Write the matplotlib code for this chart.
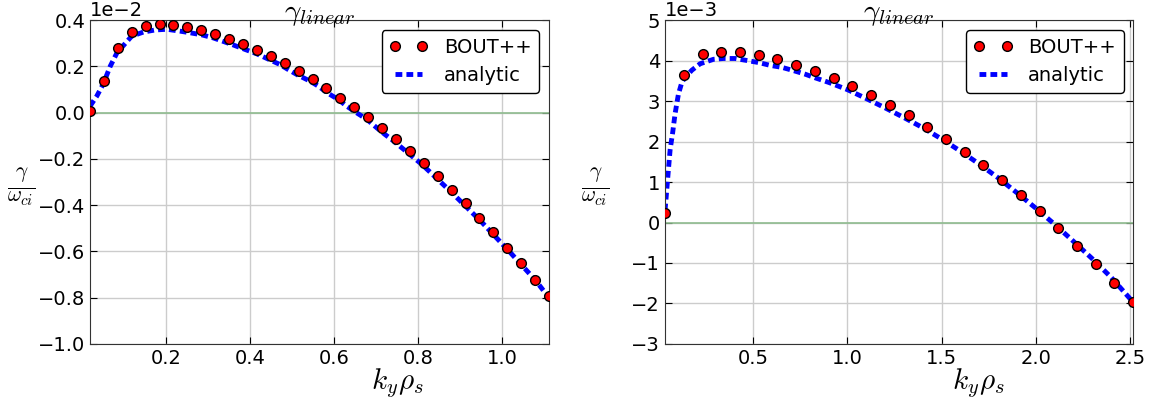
import numpy as np
import matplotlib
matplotlib.use('Agg')
import matplotlib.pyplot as plt

plt.rcParams['mathtext.fontset'] = 'cm'
plt.rcParams['font.family'] = 'DejaVu Sans'

# left panel, values in units of 1e-2
kyIzq = np.linspace(0.019, 1.112, 34)
gammaIzq = [0.005, 0.136, 0.28, 0.348, 0.375, 0.382, 0.378, 0.369, 0.356, 0.34,
            0.32, 0.297, 0.271, 0.245, 0.214, 0.181, 0.145, 0.107, 0.064, 0.024,
            -0.019, -0.067, -0.115, -0.166, -0.218, -0.274, -0.335, -0.391, -0.456,
            -0.516, -0.586, -0.650, -0.724, -0.793]
kyAnaIzq = [0.019, 0.035, 0.050, 0.067, 0.083, 0.118, 0.146, 0.174, 0.202, 0.233,
            0.257, 0.285, 0.312, 0.356, 0.388, 0.416, 0.440, 0.471, 0.490, 0.514,
            0.543, 0.562, 0.586, 0.610, 0.630, 0.654, 0.678, 0.702, 0.721, 0.74,
            0.81, 0.88, 0.95, 1.02, 1.08, 1.112]
anaIzq = [0.028, 0.071, 0.122, 0.200, 0.258, 0.33, 0.348, 0.357, 0.36, 0.352,
          0.345, 0.336, 0.323, 0.295, 0.273, 0.254, 0.234, 0.208, 0.187, 0.162,
          0.136, 0.115, 0.083, 0.057, 0.028, -0.001, -0.029, -0.066, -0.094, -0.12,
          -0.225, -0.345, -0.47, -0.605, -0.725, -0.80]

# right panel, values in units of 1e-3
kyDer = np.linspace(0.032, 2.516, 26)
gammaDer = [0.24, 3.65, 4.15, 4.22, 4.20, 4.13, 4.03, 3.88, 3.74, 3.56, 3.36, 3.14,
            2.90, 2.65, 2.36, 2.07, 1.75, 1.41, 1.04, 0.67, 0.28, -0.14, -0.57,
            -1.02, -1.49, -1.97]
kyAnaDer = [0.032, 0.050, 0.059, 0.073, 0.085, 0.103, 0.121, 0.138, 0.174, 0.218,
            0.289, 0.342, 0.404, 0.467, 0.528, 0.590, 0.653, 0.714, 0.777, 0.83,
            0.9, 1.0, 1.1, 1.2, 1.3, 1.4, 1.5, 1.6, 1.7, 1.8, 1.9, 2.0, 2.1, 2.2,
            2.3, 2.4, 2.516]
anaDer = [0.3, 1.31, 1.8, 2.24, 2.68, 3.17, 3.46, 3.58, 3.76, 3.92, 4.03, 4.05,
          4.05, 4.0, 3.95, 3.88, 3.83, 3.75, 3.66, 3.57, 3.46, 3.28, 3.06, 2.83,
          2.59, 2.34, 2.06, 1.76, 1.44, 1.1, 0.73, 0.35, -0.05, -0.47, -0.9, -1.36,
          -1.97]


def dibujar(ax, x, y, xa, ya, escala, exp, xlim, ylim, xticks, yticks):
    ax.axhline(0, color='#8fbc8f', lw=1.2, zorder=1)
    ax.plot(x, np.array(y) * escala, 'o', color='red', markeredgecolor='black',
            markersize=7, label='BOUT++', zorder=3)
    ax.plot(xa, np.array(ya) * escala, color='blue', lw=3.5, dashes=(1.4, 0.85),
            label='analytic', zorder=2)
    ax.set_xlim(*xlim)
    ax.set_ylim(ylim[0] * escala, ylim[1] * escala)
    ax.set_xticks(xticks)
    ax.set_yticks(np.array(yticks) * escala)
    ax.ticklabel_format(axis='y', style='sci', scilimits=(exp, exp))
    ax.yaxis.get_offset_text().set_fontsize(14)
    ax.tick_params(direction='in', top=True, right=True, labelsize=14, length=5)
    ax.grid(True, color='#cccccc', lw=1)
    ax.set_axisbelow(True)
    ax.set_title(r'$\gamma_{linear}$', fontsize=21, pad=0)
    ax.set_xlabel(r'$k_y\rho_s$', fontsize=21)
    ax.xaxis.set_label_coords(0.67, -0.068)
    ax.set_ylabel(r'$\frac{\gamma}{\omega_{ci}}$', fontsize=22, rotation=0)
    ax.yaxis.set_label_coords(-0.15, 0.42)
    ax.legend(loc='upper right', numpoints=2, fontsize=14, fancybox=True,
              edgecolor='black', framealpha=1, handlelength=2.0)
    for s in ax.spines.values():
        s.set_color('#333333')


fig = plt.figure(figsize=(11.56, 3.98), dpi=100)
ax1 = fig.add_axes([0.0779, 0.1357, 0.397, 0.814])
ax2 = fig.add_axes([0.5753, 0.1357, 0.405, 0.814])

dibujar(ax1, kyIzq, gammaIzq, kyAnaIzq, anaIzq, 1e-2, -2, (0.019, 1.112),
        (-1.0, 0.4), [0.2, 0.4, 0.6, 0.8, 1.0], [-1.0, -0.8, -0.6, -0.4, -0.2, 0.0, 0.2, 0.4])
dibujar(ax2, kyDer, gammaDer, kyAnaDer, anaDer, 1e-3, -3, (0.032, 2.516),
        (-3, 5), [0.5, 1.0, 1.5, 2.0, 2.5], [-3, -2, -1, 0, 1, 2, 3, 4, 5])

plt.savefig('out.png', dpi=100)
